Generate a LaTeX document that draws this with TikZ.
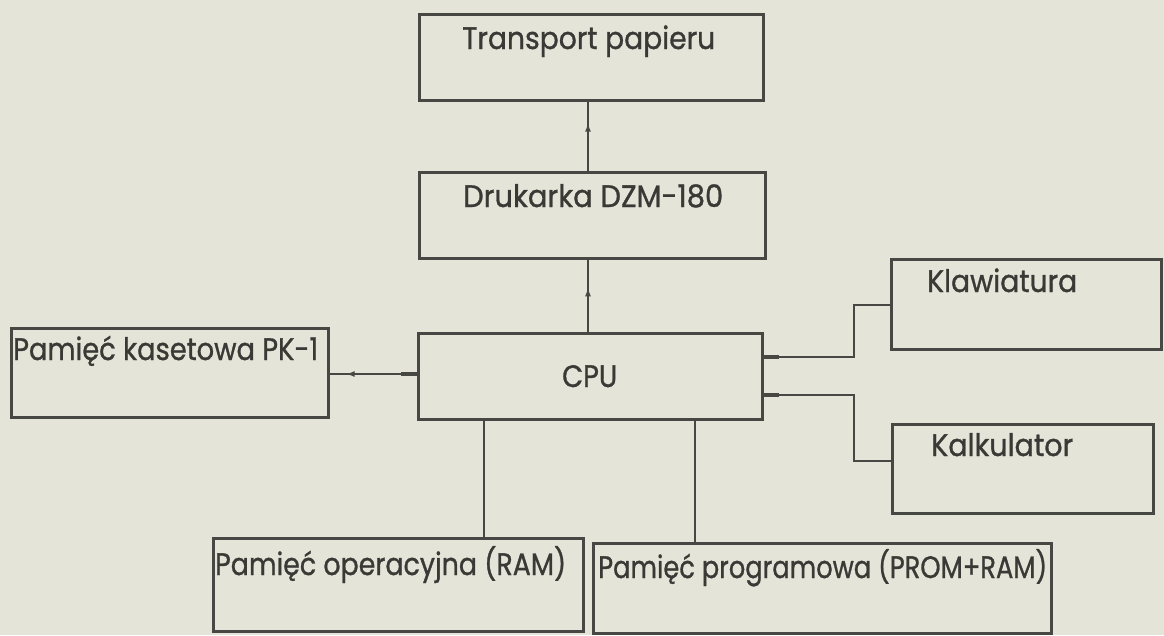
\documentclass[tikz,border=0pt]{standalone}
\usepackage{fontspec}
\setmainfont{Poppins}
\newfontfamily\lblfont{Poppins}[FakeBold=1.0]
\usepackage{graphicx}
\usetikzlibrary{arrows.meta,decorations.markings,calc}
\definecolor{paper}{HTML}{E4E4D9}
\definecolor{ink}{HTML}{474743}
\definecolor{txt}{HTML}{393935}
% stretch a label horizontally to a given width, keeping its height
\newcommand\fitto[2]{\resizebox{#1}{\height}{#2}}

\begin{document}
\begin{tikzpicture}[x=1pt,y=-1pt,
  box/.style={draw=ink, line width=3pt, rectangle, inner sep=0pt, anchor=north west},
  lbl/.style={text=txt, font=\lblfont\fontsize{31}{31}\selectfont, inner sep=0pt, anchor=base west},
  wire/.style={draw=ink, line width=2pt},
  thinwire/.style={draw=ink, line width=1.6pt},
  stub/.style={draw=ink, line width=4pt},
  tipat/.style={postaction=decorate, decoration={markings,
      mark=at position #1 with {\arrow{Latex[length=9pt,width=6pt]}}}}
]
\fill[paper] (0,0) rectangle (1164,635);
\useasboundingbox (0,0) rectangle (1164,635);

% blocks
\node[box, minimum width=344pt, minimum height=86pt] (transport) at (418,13) {};
\node[box, minimum width=346pt, minimum height=86pt] (drukarka) at (418,171) {};
\node[box, minimum width=344pt, minimum height=86pt] (cpu) at (417,332) {};
\node[box, minimum width=317pt, minimum height=89pt] (kaseta) at (10,327) {};
\node[box, minimum width=270pt, minimum height=90pt] (klaw) at (890,258) {};
\node[box, minimum width=261pt, minimum height=89pt] (kalk) at (891,423) {};
\node[box, minimum width=370pt, minimum height=93pt] (ram) at (212,537) {};
\node[box, minimum width=458pt, minimum height=90pt] (prom) at (592,542) {};

% labels
\node[lbl] (transport-t) at (462,49) {\fitto{253pt}{Transport papieru}};
\node[lbl] (drukarka-t) at (463,207) {\fitto{260pt}{Drukarka DZM-180}};
\node[lbl] (cpu-t) at (562,387) {\fitto{55pt}{CPU}};
\node[lbl] (kaseta-t) at (13,360) {\fitto{305pt}{Pamięć kasetowa PK-1}};
\node[lbl] (klaw-t) at (927,292) {\fitto{150pt}{Klawiatura}};
\node[lbl] (kalk-t) at (931,456) {\fitto{142pt}{Kalkulator}};
\node[lbl] (ram-t) at (215,575) {\fitto{351pt}{Pamięć operacyjna (RAM)}};
\node[lbl] (prom-t) at (598,578) {\fitto{449pt}{Pamięć programowa (PROM+RAM)}};

% helper coordinates for the bus lines
\coordinate (vx) at (588,0);
\coordinate (bend) at (854,0);
\coordinate (r1) at (484,0);
\coordinate (r2) at (695,0);
\coordinate (ky) at (0,374);
\coordinate (k1) at ($(cpu.north east)+(0,25)$);
\coordinate (k2) at ($(cpu.north east)+(0,63)$);
\coordinate (kalkin) at ($(kalk.west)+(0,-8)$);

% printer chain
\draw[wire, tipat=0.7] (drukarka.north -| vx) -- (transport.south -| vx);
\draw[wire, tipat=0.62] (cpu.north -| vx) -- (drukarka.south -| vx);

% cassette memory
\draw[wire, tipat=0.82] (cpu.west |- ky) -- (kaseta.east |- ky);
\draw[stub] (cpu.west |- ky) -- ++(-16,0);

% keyboard and calculator
\draw[wire] (k1) -- (k1 -| bend) |- (klaw.west);
\draw[stub] (k1) -- ++(15,0);
\draw[wire] (k2) -- (k2 -| bend) |- (kalkin);
\draw[stub] (k2) -- ++(15,0);

% memories
\draw[thinwire] (cpu.south -| r1) -- (ram.north -| r1);
\draw[thinwire] (cpu.south -| r2) -- (prom.north -| r2);
\end{tikzpicture}
\end{document}
